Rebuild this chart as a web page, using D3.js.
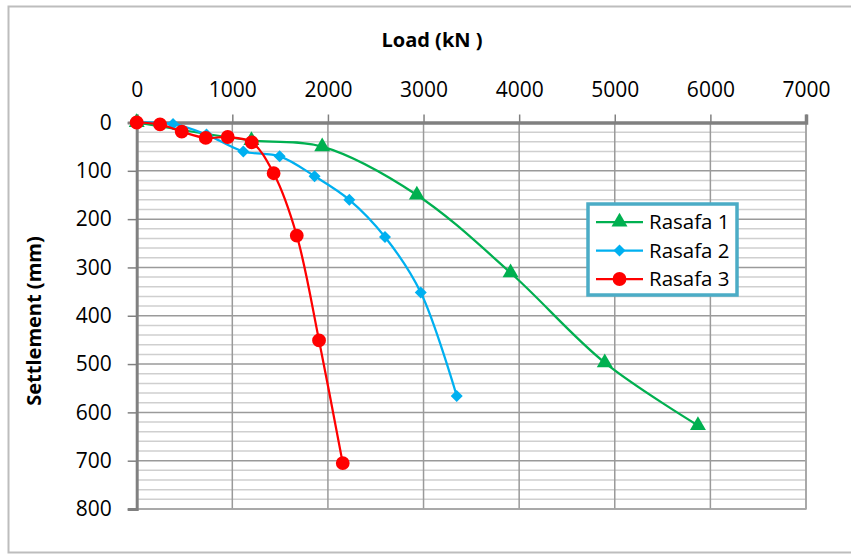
<!DOCTYPE html>
<html>
<head>
<meta charset="utf-8">
<script src="https://cdn.jsdelivr.net/npm/d3@7"></script>
<style>
  html, body { margin: 0; padding: 0; background: #fff; }
  svg { display: block; }
  text { font-family: "Open Sans", "DejaVu Sans", sans-serif; fill: #000; }
</style>
</head>
<body>
<svg id="chart" width="851" height="554"></svg>
<script>
// Load–settlement test data (load in kN, settlement in mm)
const rasafa1Load = [0, 1200, 1940, 2930, 3910, 4895, 5870];
const rasafa1Settle = [0, 37, 50, 150, 311, 497, 627];

const rasafa2Load = [0, 380, 730, 1115, 1495, 1860, 2224, 2597, 2971, 3347];
const rasafa2Settle = [0, 3, 25, 60, 70, 111, 160, 237, 352, 566];

const rasafa3Load = [0, 244, 471, 722, 952, 1203, 1432, 1674, 1907, 2155];
const rasafa3Settle = [0, 4, 19, 32, 30, 41, 105, 234, 451, 705];

const seriesNames = ["Rasafa 1", "Rasafa 2", "Rasafa 3"];
const xTicks = [0, 1000, 2000, 3000, 4000, 5000, 6000, 7000];
const yTicks = [0, 100, 200, 300, 400, 500, 600, 700, 800];

// square symbol turned 45° gives an even diamond
const series = [
  { name: seriesNames[0], load: rasafa1Load, settle: rasafa1Settle, color: "#00B050", symbol: d3.symbolTriangle, size: 110, rot: 0 },
  { name: seriesNames[1], load: rasafa2Load, settle: rasafa2Settle, color: "#00B0F0", symbol: d3.symbolSquare, size: 72, rot: 45 },
  { name: seriesNames[2], load: rasafa3Load, settle: rasafa3Settle, color: "#FF0000", symbol: d3.symbolCircle, size: 150, rot: 0 }
];

const svg = d3.select("#chart");

// chart area frame
svg.append("rect")
  .attr("x", 8.5).attr("y", 6.5).attr("width", 850).attr("height", 546)
  .attr("fill", "#fff").attr("stroke", "#bdbdbd").attr("stroke-width", 2);

const x = d3.scaleLinear().domain([0, 7000]).range([136.7, 806]);
const y = d3.scaleLinear().domain([0, 800]).range([122.5, 509]);

const g = svg.append("g");

// minor horizontal gridlines every 20 mm
const minor = d3.range(0, 801, 20).filter(v => v % 100 !== 0);
g.selectAll(".minor").data(minor).enter().append("line")
  .attr("x1", x(0)).attr("x2", x(7000))
  .attr("y1", d => y(d)).attr("y2", d => y(d))
  .attr("stroke", "#cfcfcf").attr("stroke-width", 1.5);

// major horizontal gridlines
g.selectAll(".hmajor").data(yTicks.slice(1)).enter().append("line")
  .attr("x1", x(0)).attr("x2", x(7000))
  .attr("y1", d => y(d)).attr("y2", d => y(d))
  .attr("stroke", "#9a9a9a").attr("stroke-width", 1.5);

// vertical gridlines
g.selectAll(".vmajor").data(xTicks.slice(1)).enter().append("line")
  .attr("x1", d => x(d)).attr("x2", d => x(d))
  .attr("y1", y(0)).attr("y2", y(800))
  .attr("stroke", "#9a9a9a").attr("stroke-width", 1.5);

// plot-area border on the right and bottom
g.append("path")
  .attr("d", `M${x(7000)},${y(0)}V${y(800)}H${x(0)}`)
  .attr("fill", "none").attr("stroke", "#a6a6a6").attr("stroke-width", 1.5);

// top (load) axis
const xAxis = d3.axisTop(x).tickValues(xTicks).tickSize(8).tickPadding(18).tickFormat(d3.format("d"));
const gx = svg.append("g").attr("transform", `translate(0,${y(0)})`).call(xAxis);
gx.select(".domain").attr("stroke", "#808080").attr("stroke-width", 3.5);
gx.selectAll(".tick line").attr("stroke", "#808080").attr("stroke-width", 1.5);
gx.selectAll(".tick text").attr("font-size", 21).attr("font-family", "Open Sans").attr("fill", "#000");

// left (settlement) axis
const yAxis = d3.axisLeft(y).tickValues(yTicks).tickSize(9).tickPadding(16).tickFormat(d3.format("d"));
const gy = svg.append("g").attr("transform", `translate(${x(0)},0)`).call(yAxis);
gy.select(".domain").attr("stroke", "#808080").attr("stroke-width", 3);
gy.selectAll(".tick line").attr("stroke", "#808080").attr("stroke-width", 1.5);
gy.selectAll(".tick text").attr("font-size", 21).attr("font-family", "Open Sans").attr("fill", "#000");

// axis titles
svg.append("text")
  .attr("x", 432).attr("y", 47)
  .attr("text-anchor", "middle")
  .attr("font-size", 20).attr("font-weight", "bold")
  .text("Load (kN )");

svg.append("text")
  .attr("transform", `translate(41,321) rotate(-90)`)
  .attr("text-anchor", "middle")
  .attr("font-size", 20).attr("font-weight", "bold")
  .text("Settlement (mm)");

// series lines and markers
const line = d3.line()
  .x(d => x(d[0])).y(d => y(d[1]))
  .curve(d3.curveCatmullRom.alpha(0.5));

series.forEach(s => {
  const pts = s.load.map((v, i) => [v, s.settle[i]]);
  const sg = svg.append("g");
  sg.append("path").datum(pts)
    .attr("d", line)
    .attr("fill", "none").attr("stroke", s.color).attr("stroke-width", 2.25);
  sg.selectAll("path.mark").data(pts).enter().append("path")
    .attr("class", "mark")
    .attr("d", d3.symbol().type(s.symbol).size(s.size))
    .attr("transform", d => `translate(${x(d[0])},${y(d[1])}) rotate(${s.rot})`)
    .attr("fill", s.color);
});

// legend
const lg = svg.append("g");
lg.append("rect")
  .attr("x", 588).attr("y", 204).attr("width", 149).attr("height", 91)
  .attr("fill", "#fff").attr("stroke", "#4BACC6").attr("stroke-width", 3.5);
series.forEach((s, i) => {
  const cy = 222 + i * 28.5;
  lg.append("line")
    .attr("x1", 596).attr("x2", 643).attr("y1", cy).attr("y2", cy)
    .attr("stroke", s.color).attr("stroke-width", 2.25);
  lg.append("path")
    .attr("d", d3.symbol().type(s.symbol).size(s.size))
    .attr("transform", `translate(619.5,${cy}) rotate(${s.rot})`)
    .attr("fill", s.color);
  lg.append("text")
    .attr("x", 649).attr("y", cy)
    .attr("dy", "0.35em")
    .attr("font-size", 20.5)
    .text(s.name);
});
</script>
</body>
</html>
